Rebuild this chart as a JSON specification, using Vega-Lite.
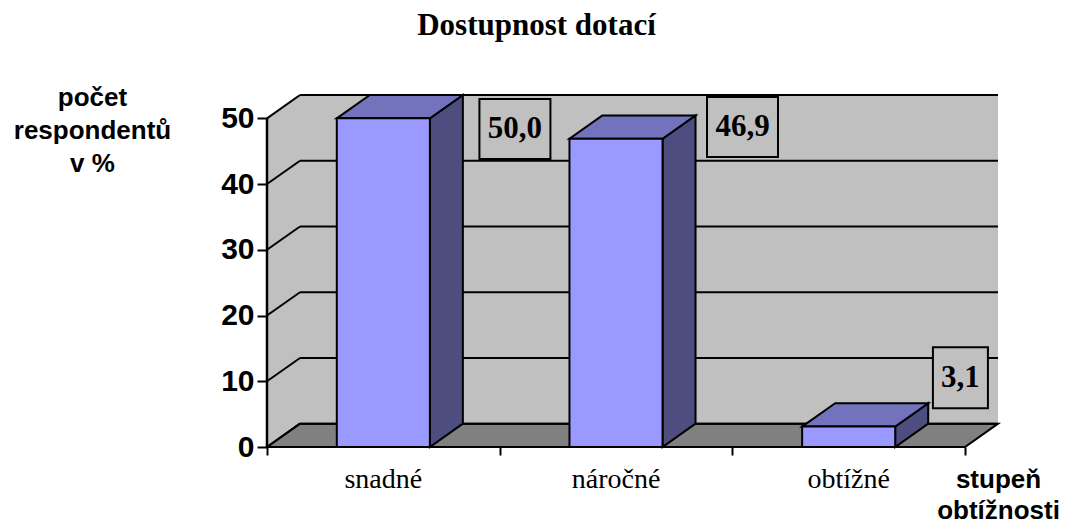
{
  "$schema": "https://vega.github.io/schema/vega-lite/v6.json",
  "width": 731,
  "height": 352,
  "autosize": {"type": "none"},
  "padding": {"left": 267, "top": 95, "right": 69, "bottom": 77},
  "background": "white",
  "title": {"text": "Dostupnost dotací", "font": "Liberation Serif", "fontSize": 31, "fontWeight": "bold", "color": "black", "anchor": "middle", "frame": "group", "dx": -96, "baseline": "alphabetic", "offset": 18},
  "datasets": {
    "odpovedi": [
      {"stupen": "snadné", "pct": 50.0},
      {"stupen": "náročné", "pct": 46.9},
      {"stupen": "obtížné", "pct": 3.1}
    ],
    "mrizka": [{"v": 0}, {"v": 10}, {"v": 20}, {"v": 30}, {"v": 40}, {"v": 50}],
    "ramec": [{}]
  },
  "data": {"name": "odpovedi"},
  "layer": [
    {
      "data": {"name": "ramec"},
      "mark": {"type": "rect", "fill": "#c0c0c0"},
      "encoding": {
        "x": {"datum": 0.1418, "type": "quantitative",
          "scale": {"domain": [0, 3.1418], "nice": false, "zero": false},
          "axis": {"values": [0, 1, 2, 3], "labels": false, "domain": false, "grid": false, "ticks": true, "tickSize": 8, "tickWidth": 2, "tickColor": "black", "zindex": 1,
            "title": ["stupeň", "obtížnosti"], "titleFont": "Liberation Sans", "titleFontWeight": "bold", "titleFontSize": 26, "titleColor": "black", "titleAngle": 0, "titleAlign": "center", "titleBaseline": "alphabetic", "titleX": 731, "titleY": 40.3, "titleLineHeight": 31}},
        "x2": {"datum": 3.1418},
        "y": {"datum": 3.548, "type": "quantitative",
          "scale": {"domain": [0, 53.548], "nice": false, "zero": false},
          "axis": {"values": [0, 10, 20, 30, 40, 50], "domain": false, "grid": false, "tickSize": 10, "tickWidth": 2, "tickColor": "black", "zindex": 1,
            "labelFont": "Liberation Sans", "labelFontWeight": "bold", "labelFontSize": 30, "labelColor": "black", "labelPadding": 3,
            "title": ["počet", "respondentů", "v %"], "titleFont": "Liberation Sans", "titleFontWeight": "bold", "titleFontSize": 26, "titleColor": "black", "titleAngle": 0, "titleAlign": "center", "titleBaseline": "alphabetic", "titleX": -175, "titleY": 10, "titleLineHeight": 33}},
        "y2": {"datum": 53.548}
      }
    },
    {
      "data": {"name": "ramec"},
      "transform": [
        {"calculate": "0", "as": "a"}, {"calculate": "1", "as": "b"},
        {"fold": ["a", "b"], "as": ["roh", "t"]},
        {"calculate": "datum.t * 0.1418", "as": "wx"},
        {"calculate": "50 + datum.t * 3.548", "as": "wy"},
        {"calculate": "datum.t * 3.548", "as": "wy2"}
      ],
      "mark": {"type": "area", "orient": "vertical", "fill": "#c0c0c0"},
      "encoding": {
        "x": {"field": "wx", "type": "quantitative"},
        "y": {"field": "wy", "type": "quantitative"},
        "y2": {"field": "wy2"}
      }
    },
    {
      "data": {"name": "ramec"},
      "transform": [
        {"calculate": "0", "as": "a"}, {"calculate": "1", "as": "b"},
        {"fold": ["a", "b"], "as": ["roh", "t"]},
        {"calculate": "datum.t * 0.1418", "as": "fx"},
        {"calculate": "3 + datum.t * 0.1418", "as": "fx2"},
        {"calculate": "datum.t * 3.548", "as": "fy"}
      ],
      "mark": {"type": "area", "orient": "horizontal", "fill": "#808080", "stroke": "black", "strokeWidth": 2},
      "encoding": {
        "y": {"field": "fy", "type": "quantitative"},
        "x": {"field": "fx", "type": "quantitative"},
        "x2": {"field": "fx2"}
      }
    },
    {
      "data": {"name": "mrizka"},
      "transform": [{"calculate": "datum.v + 3.548", "as": "gy"}],
      "mark": {"type": "rule", "color": "black", "strokeWidth": 2},
      "encoding": {
        "x": {"datum": 0.1418, "type": "quantitative"},
        "x2": {"datum": 3.1418},
        "y": {"field": "gy", "type": "quantitative"}
      }
    },
    {
      "data": {"name": "mrizka"},
      "transform": [{"calculate": "datum.v + 3.548", "as": "gy"}],
      "mark": {"type": "rule", "color": "black", "strokeWidth": 2},
      "encoding": {
        "x": {"datum": 0, "type": "quantitative"},
        "x2": {"datum": 0.1418},
        "y": {"field": "v", "type": "quantitative"},
        "y2": {"field": "gy"}
      }
    },
    {
      "data": {"name": "ramec"},
      "mark": {"type": "rule", "color": "black", "strokeWidth": 2.5},
      "encoding": {
        "x": {"datum": 0, "type": "quantitative"},
        "y": {"datum": 0, "type": "quantitative"},
        "y2": {"datum": 50}
      }
    },
    {
      "transform": [
        {"calculate": "indexof(['snadné','náročné','obtížné'], datum.stupen)", "as": "i"},
        {"calculate": "0", "as": "a"}, {"calculate": "1", "as": "b"},
        {"fold": ["a", "b"], "as": ["roh", "t"]},
        {"calculate": "datum.i + 0.7 + datum.t * 0.1418", "as": "sx"},
        {"calculate": "datum.pct + datum.t * 3.548", "as": "sy"},
        {"calculate": "datum.t * 3.548", "as": "sy2"}
      ],
      "mark": {"type": "area", "orient": "vertical", "fill": "#4d4d80", "stroke": "black", "strokeWidth": 2},
      "encoding": {
        "x": {"field": "sx", "type": "quantitative"},
        "y": {"field": "sy", "type": "quantitative"},
        "y2": {"field": "sy2"},
        "detail": {"field": "stupen"}
      }
    },
    {
      "transform": [
        {"calculate": "indexof(['snadné','náročné','obtížné'], datum.stupen)", "as": "i"},
        {"calculate": "0", "as": "a"}, {"calculate": "1", "as": "b"},
        {"fold": ["a", "b"], "as": ["roh", "t"]},
        {"calculate": "datum.i + 0.3 + datum.t * 0.1418", "as": "tx"},
        {"calculate": "datum.i + 0.7 + datum.t * 0.1418", "as": "tx2"},
        {"calculate": "datum.pct + datum.t * 3.548", "as": "ty"}
      ],
      "mark": {"type": "area", "orient": "horizontal", "fill": "#7373bd", "stroke": "black", "strokeWidth": 2},
      "encoding": {
        "y": {"field": "ty", "type": "quantitative"},
        "x": {"field": "tx", "type": "quantitative"},
        "x2": {"field": "tx2"},
        "detail": {"field": "stupen"}
      }
    },
    {
      "transform": [
        {"calculate": "indexof(['snadné','náročné','obtížné'], datum.stupen)", "as": "i"},
        {"calculate": "datum.i + 0.3", "as": "bx"},
        {"calculate": "datum.i + 0.7", "as": "bx2"}
      ],
      "mark": {"type": "rect", "fill": "#9999ff", "stroke": "black", "strokeWidth": 2},
      "encoding": {
        "x": {"field": "bx", "type": "quantitative"},
        "x2": {"field": "bx2"},
        "y": {"field": "pct", "type": "quantitative"},
        "y2": {"datum": 0}
      }
    },
    {
      "transform": [
        {"calculate": "indexof(['snadné','náročné','obtížné'], datum.stupen) + 0.5", "as": "cx"}
      ],
      "mark": {"type": "text", "font": "Liberation Serif", "fontSize": 28, "color": "black", "align": "center", "baseline": "alphabetic", "dy": 41},
      "encoding": {
        "x": {"field": "cx", "type": "quantitative"},
        "y": {"datum": 0, "type": "quantitative"},
        "text": {"field": "stupen"}
      }
    },
    {
      "transform": [
        {"filter": "datum.stupen == 'snadné'"},
        {"calculate": "indexof(['snadné','náročné','obtížné'], datum.stupen) + 0.5", "as": "cx"},
        {"calculate": "replace(format(datum.pct, '.1f'), '.', ',')", "as": "lbl"}
      ],
      "encoding": {
        "x": {"field": "cx", "type": "quantitative"},
        "y": {"field": "pct", "type": "quantitative"}
      },
      "layer": [
        {"mark": {"type": "point", "shape": "M-1.183,-1H1.183V1H-1.183Z", "size": 3600, "filled": true, "fill": "#c0c0c0", "stroke": "black", "strokeWidth": 2, "opacity": 1, "xOffset": 131.6, "yOffset": 10.7}},
        {"mark": {"type": "text", "font": "Liberation Serif", "fontWeight": "bold", "fontSize": 31, "color": "black", "align": "center", "baseline": "middle", "xOffset": 131.6, "yOffset": 10.7}, "encoding": {"text": {"field": "lbl"}}}
      ]
    },
    {
      "transform": [
        {"filter": "datum.stupen == 'náročné'"},
        {"calculate": "indexof(['snadné','náročné','obtížné'], datum.stupen) + 0.5", "as": "cx"},
        {"calculate": "replace(format(datum.pct, '.1f'), '.', ',')", "as": "lbl"}
      ],
      "encoding": {
        "x": {"field": "cx", "type": "quantitative"},
        "y": {"field": "pct", "type": "quantitative"}
      },
      "layer": [
        {"mark": {"type": "point", "shape": "M-1.183,-1H1.183V1H-1.183Z", "size": 3600, "filled": true, "fill": "#c0c0c0", "stroke": "black", "strokeWidth": 2, "opacity": 1, "xOffset": 126.5, "yOffset": -11.7}},
        {"mark": {"type": "text", "font": "Liberation Serif", "fontWeight": "bold", "fontSize": 31, "color": "black", "align": "center", "baseline": "middle", "xOffset": 126.5, "yOffset": -11.7}, "encoding": {"text": {"field": "lbl"}}}
      ]
    },
    {
      "transform": [
        {"filter": "datum.stupen == 'obtížné'"},
        {"calculate": "indexof(['snadné','náročné','obtížné'], datum.stupen) + 0.5", "as": "cx"},
        {"calculate": "replace(format(datum.pct, '.1f'), '.', ',')", "as": "lbl"}
      ],
      "encoding": {
        "x": {"field": "cx", "type": "quantitative"},
        "y": {"field": "pct", "type": "quantitative"}
      },
      "layer": [
        {"mark": {"type": "point", "shape": "M-0.9016,-1H0.9016V1H-0.9016Z", "size": 3721, "filled": true, "fill": "#c0c0c0", "stroke": "black", "strokeWidth": 2, "opacity": 1, "xOffset": 111.75, "yOffset": -48.8}},
        {"mark": {"type": "text", "font": "Liberation Serif", "fontWeight": "bold", "fontSize": 31, "color": "black", "align": "center", "baseline": "middle", "xOffset": 111.75, "yOffset": -48.8}, "encoding": {"text": {"field": "lbl"}}}
      ]
    }
  ],
  "config": {
    "view": {"stroke": null},
    "axis": {"labelColor": "black", "tickColor": "black"}
  }
}
